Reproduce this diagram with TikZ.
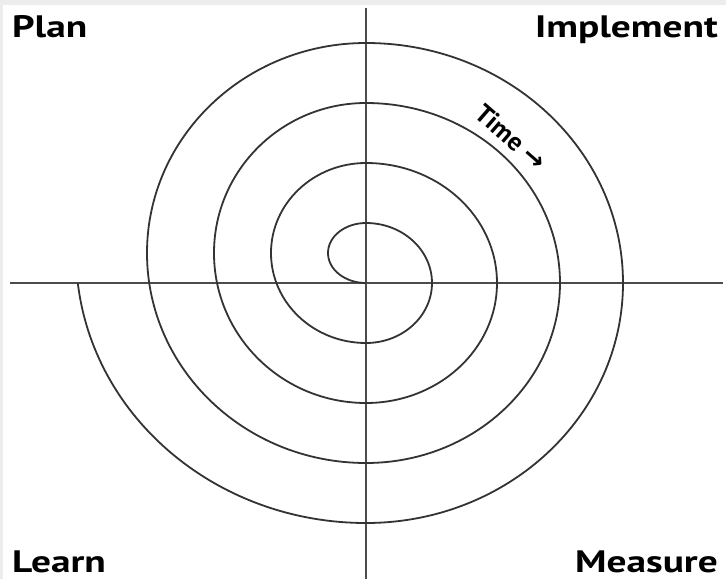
\documentclass[tikz,border=0pt]{standalone}
\usepackage{fontspec}
\setmainfont{PT Sans}
\newfontfamily\arrowfont{DejaVu Sans}
\usepackage{tikz}
\usetikzlibrary{positioning}

\newcommand{\widelabel}[1]{\scalebox{1.27}[1]{#1}}

\begin{document}
\begin{tikzpicture}[
x=1pt, y=1pt,
axis/.style={draw=black!70, line width=1.4pt},
spiral/.style={draw=black!80, line width=1.8pt},
corner/.style={font=\fontsize{31}{31}\selectfont\bfseries, inner sep=0pt, text depth=0pt}
]

% page with the thin grey edge
\fill[black!7] (-366,-296) rectangle (360,283);
\fill[white] (-363,-296) rectangle (360,278);
\useasboundingbox (-366,-296) rectangle (360,283);

% axes
\coordinate (o) at (0,0);
\coordinate (west) at (-356,0);
\coordinate (east) at (357,0);
\coordinate (north) at (0,275);
\coordinate (south) at (0,-296);
\draw[axis] (west) -- (east);
\draw[axis] (north) -- (south);

% spiral: half ellipses, left ones centred 30 above the origin
\draw[spiral] (o)
  arc[start angle=270, end angle=90, x radius=38, y radius=30]
  arc[start angle=90, end angle=-90, x radius=66, y radius=60]
  arc[start angle=270, end angle=90, x radius=95, y radius=90]
  arc[start angle=90, end angle=-90, x radius=131, y radius=120]
  arc[start angle=270, end angle=90, x radius=152, y radius=150]
  arc[start angle=90, end angle=-90, x radius=194, y radius=180]
  arc[start angle=270, end angle=90, x radius=219, y radius=210]
  arc[start angle=90, end angle=-90, x radius=257, y radius=240]
  arc[start angle=270, end angle=186.38, x radius=290, y radius=270];

% quadrant labels
\node[corner, anchor=base west] (plan) at (-354,246) {\widelabel{Plan}};
\node[corner, anchor=base east] (implement) at (352,246) {\widelabel{Implement}};
\node[corner, anchor=base west] (learn) at (-354,-289) {\widelabel{Learn}};
\node[corner, anchor=base east] (measure) at (352,-289) {\widelabel{Measure}};

\node[font=\fontsize{26}{26}\selectfont\bfseries, rotate=-41, inner sep=0pt] (time) at (145,146) {Time {\arrowfont\bfseries →}};

\end{tikzpicture}
\end{document}
